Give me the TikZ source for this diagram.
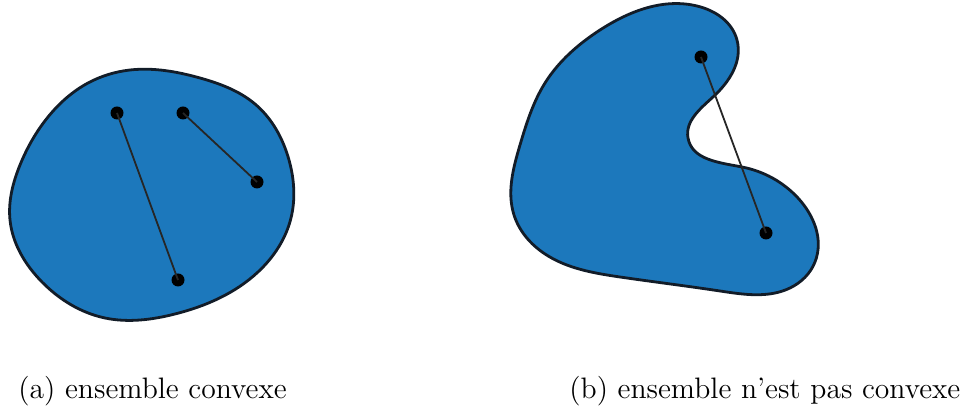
\documentclass[tikz,border=0pt]{standalone}
\usepackage{tikz}
\usetikzlibrary{hobby}
\definecolor{setblue}{RGB}{28,120,188}
\definecolor{edge}{RGB}{18,28,40}
\begin{document}
\begin{tikzpicture}[x=0.5pt,y=-0.5pt,
  region/.style={fill=setblue,draw=edge,line width=1.4pt,use Hobby shortcut,closed=true},
  dot/.style={circle,fill=black,inner sep=0pt,minimum size=6.5pt},
  seg/.style={draw=black!85,line width=0.9pt},
  caption/.style={anchor=base west,inner sep=0pt,font=\fontsize{14.8}{17}\selectfont}]
\useasboundingbox (0,0) rectangle (965,410);
% convex set
\draw[region] (130,70) .. (200,78) .. (255,104) .. (289,160) .. (291,218)
  .. (258,272) .. (175,314) .. (105,318) .. (42,282) .. (10,220)
  .. (20,165) .. (48,117) .. (88,83);
% non-convex set
\draw[region] (697,6) .. (737,40) .. (713,97) .. (688,138) .. (742,167)
  .. (798,198) .. (815,262) .. (790,288) .. (720,291) .. (620,277)
  .. (545,254) .. (514,215) .. (520,145) .. (545,83) .. (600,30);
\node[dot] (a1) at (117,113) {};
\node[dot] (a2) at (183,113) {};
\node[dot] (a3) at (257,182) {};
\node[dot] (a4) at (178,280) {};
\node[dot] (b1) at (701,57) {};
\node[dot] (b2) at (766,233) {};
\draw[seg] (a1.center) -- (a4.center);
\draw[seg] (a2.center) -- (a3.center);
\draw[seg] (b1.center) -- (b2.center);
\node[caption] (ca) at (18,399) {(a) ensemble convexe};
\node[caption] (cb) at (569,399) {(b) ensemble n'est pas convexe};
\end{tikzpicture}
\end{document}
